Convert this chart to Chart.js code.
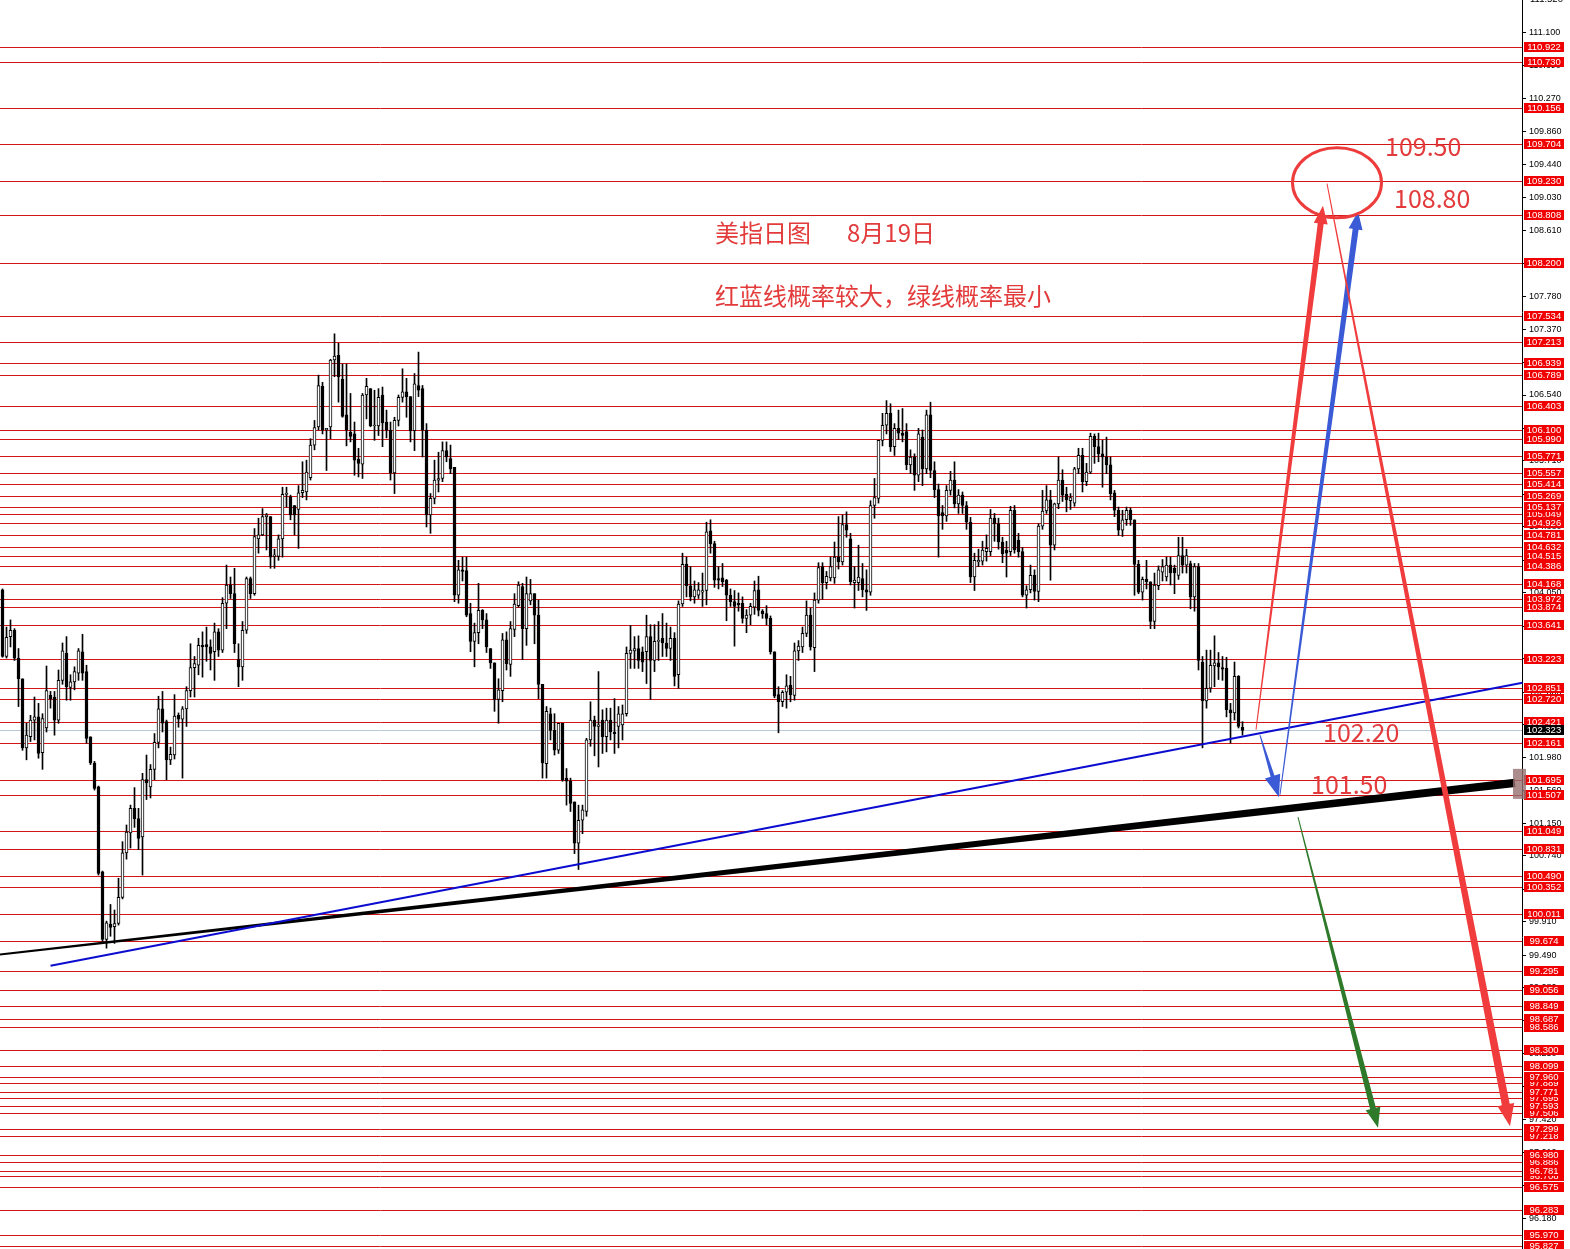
<!DOCTYPE html>
<html><head><meta charset="utf-8">
<script src="https://cdn.jsdelivr.net/npm/chart.js@4.4.1/dist/chart.umd.min.js"></script>
<style>html,body{margin:0;padding:0;background:#fff;overflow:hidden}canvas{display:block}</style>
</head><body>
<canvas id="c" width="1570" height="1249"></canvas>
<script>
// ---- Daily candles (USDX), oldest first ----
const opens = [
104.09,103.25,103.50,103.58,103.23,102.97,102.10,102.24,102.45,102.49,
102.04,102.35,102.76,102.74,102.45,102.95,103.29,102.86,102.93,103.04,
103.31,103.06,102.24,101.91,101.61,100.54,99.69,99.88,99.85,99.89,
100.22,100.78,101.03,101.34,101.21,100.98,101.70,101.61,101.83,102.17,
102.59,102.43,101.95,102.01,102.51,102.46,102.59,102.82,103.11,103.14,
103.39,103.40,103.37,103.31,103.56,103.33,103.92,104.15,104.04,103.21,
103.12,103.58,104.23,104.04,104.73,104.78,105.01,105.01,104.51,104.51,
104.73,105.29,105.26,105.15,105.10,105.31,105.32,105.50,105.91,106.14,
106.65,106.10,106.14,106.98,107.04,106.74,106.29,106.07,106.05,105.73,
105.67,106.54,106.62,106.15,106.15,106.54,106.20,106.10,105.56,106.22,
106.51,106.58,106.52,106.09,106.66,106.62,106.10,105.03,105.24,105.47,
105.49,105.84,105.74,105.63,104.02,104.34,104.33,103.79,103.44,103.55,
103.83,103.71,103.35,103.17,102.71,102.82,103.46,103.15,103.59,103.89,
104.13,103.60,103.95,104.04,103.77,102.90,101.90,102.53,102.32,102.07,
102.41,101.72,101.68,101.42,100.90,101.19,101.30,102.20,102.45,102.37,
102.45,102.24,102.45,102.30,102.37,102.39,102.53,103.29,103.32,103.35,
103.31,103.31,103.50,103.20,103.44,103.48,103.42,103.35,103.48,103.02,
103.91,104.41,104.14,104.00,104.02,104.06,104.08,104.83,104.67,104.23,
104.24,104.21,104.02,103.94,103.92,103.92,103.73,103.77,103.87,104.09,
103.82,103.79,103.73,103.31,102.77,102.68,102.80,102.89,102.76,103.32,
103.37,103.54,103.77,103.36,103.96,104.38,104.18,104.24,104.24,104.50,
104.44,104.91,104.73,104.18,104.18,104.23,104.09,104.06,105.15,105.24,
105.97,106.16,106.31,105.89,106.12,106.06,106.08,105.66,105.76,105.53,
106.01,105.61,106.29,105.59,105.35,105.06,105.02,105.34,105.47,105.17,
105.28,105.15,104.94,104.25,104.44,104.45,104.57,104.57,104.99,104.92,
104.69,104.59,104.57,105.09,104.71,104.57,104.02,104.09,104.27,104.07,
104.89,105.08,105.22,104.65,105.17,105.47,105.29,105.21,105.18,105.61,
105.78,105.45,105.57,106.02,105.89,105.80,105.76,105.66,105.31,105.09,
104.84,104.97,105.09,104.97,104.41,104.06,104.22,104.19,103.69,104.14,
104.31,104.25,104.40,104.36,104.27,104.52,104.40,104.42,104.00,104.38,
103.18,102.69,102.85,103.13,103.17,103.11,103.10,102.58,102.54,103.00,102.36
];
const highs = [
104.10,103.62,103.71,103.60,103.35,102.97,102.41,102.51,102.74,102.66,
102.53,103.13,102.81,102.81,103.08,103.42,103.50,103.02,103.12,103.35,
103.53,103.14,102.24,101.93,101.62,100.55,99.92,100.13,100.06,100.46,
100.92,101.13,101.38,101.60,101.34,101.78,102.01,101.89,102.28,102.75,
102.81,102.45,102.11,102.77,102.54,102.62,102.87,103.41,103.25,103.48,
103.56,103.62,103.46,103.67,103.60,103.99,104.40,104.25,104.36,103.41,
103.69,104.25,104.25,104.86,104.99,105.11,105.05,105.01,104.60,104.78,
105.38,105.38,105.28,105.15,105.40,105.70,105.72,105.99,106.22,106.79,
106.70,106.12,106.99,107.31,107.19,106.93,106.93,106.56,106.20,105.87,
106.56,106.75,106.62,106.60,106.62,106.64,106.35,106.20,106.26,106.54,
106.87,106.75,106.52,106.81,107.08,106.66,106.18,105.30,105.72,105.82,
105.95,105.95,105.91,105.63,104.46,104.50,104.50,103.92,103.67,104.17,
103.84,103.79,103.35,103.17,102.97,103.54,103.56,103.69,104.04,104.19,
104.17,104.25,104.22,104.04,103.96,102.90,102.62,102.60,102.53,102.41,
102.41,101.84,101.72,101.42,101.38,101.38,102.22,102.68,102.50,103.06,
102.58,102.60,102.60,102.72,102.62,102.64,103.37,103.64,103.50,103.51,
103.37,103.77,103.65,103.65,103.69,103.79,103.67,103.62,103.55,103.95,
104.55,104.50,104.38,104.20,104.18,104.30,104.94,104.97,104.70,104.38,
104.42,104.22,104.10,104.08,104.05,104.00,103.84,103.92,104.20,104.26,
103.84,103.89,103.76,103.31,102.87,102.82,103.02,103.00,103.42,103.45,
103.62,103.95,103.86,104.05,104.43,104.43,104.32,104.50,104.69,105.01,
105.03,105.07,104.80,104.38,104.65,104.42,104.34,105.21,105.49,105.97,
106.31,106.47,106.43,106.18,106.35,106.37,106.18,105.85,105.80,106.12,
106.10,106.35,106.45,105.70,105.42,105.15,105.40,105.58,105.70,105.35,
105.32,105.20,105.00,104.55,104.60,104.70,104.78,105.10,105.05,104.99,
104.75,104.70,105.14,105.15,104.80,104.62,104.14,104.40,104.34,104.92,
105.34,105.40,105.34,105.18,105.76,105.60,105.38,105.30,105.63,105.87,
105.87,105.68,106.06,106.05,106.06,105.97,106.01,105.76,105.34,105.13,
105.09,105.13,105.12,104.97,104.46,104.25,104.46,104.19,104.30,104.39,
104.47,104.50,104.50,104.40,104.75,104.75,104.60,104.45,104.42,104.42,
103.25,103.33,103.33,103.51,103.30,103.25,103.24,102.66,103.18,103.01,102.43
];
const lows = [
103.24,103.23,103.37,103.20,102.62,102.07,101.95,102.18,102.20,101.97,
101.83,102.30,102.60,102.26,102.41,102.90,102.70,102.70,102.83,102.95,
102.95,102.16,101.89,101.57,100.50,99.64,99.58,99.73,99.64,99.87,
100.20,100.70,100.84,101.10,100.82,100.50,101.45,101.47,101.70,102.10,
102.30,101.70,101.89,101.96,102.36,101.72,102.37,102.74,102.74,103.02,
102.99,103.19,103.08,102.95,103.25,103.30,103.60,103.98,103.30,102.87,
102.95,103.54,103.98,104.02,104.55,104.77,104.59,104.36,104.36,104.46,
104.50,105.13,104.97,104.78,104.61,105.25,105.22,105.47,105.85,106.10,
106.05,105.59,105.99,106.77,106.45,106.26,105.90,105.95,105.53,105.51,
105.49,106.24,106.14,105.97,106.03,105.89,106.00,105.47,105.30,106.15,
106.45,106.26,105.95,105.84,106.52,105.76,104.88,104.80,105.17,105.32,
105.45,105.70,105.55,103.94,103.92,104.20,103.75,103.31,103.12,103.41,
103.60,103.30,103.10,102.56,102.41,102.68,103.08,103.00,103.50,103.87,
103.21,103.39,103.90,103.41,102.72,101.72,101.72,102.20,102.01,102.03,
101.68,101.38,101.30,100.77,100.57,101.02,101.24,102.12,102.00,101.86,
102.03,102.05,102.20,102.03,102.10,102.20,102.50,103.10,103.10,103.10,
103.06,102.91,102.71,103.06,103.20,103.25,103.25,103.20,102.88,102.85,
103.88,104.00,103.95,103.92,103.98,103.88,103.90,104.55,104.12,104.10,
104.13,103.70,103.88,103.38,103.82,103.67,103.55,103.65,103.78,103.76,
103.73,103.65,103.28,102.73,102.29,102.62,102.60,102.68,102.70,103.20,
103.30,103.50,103.33,103.06,103.92,103.97,104.10,104.20,104.17,104.35,
104.40,104.75,104.15,103.86,104.08,104.00,103.83,104.02,104.99,105.18,
105.90,106.05,105.83,105.78,105.98,105.95,105.60,105.55,105.34,105.45,
105.40,105.55,105.50,105.25,104.50,104.85,104.95,105.28,105.12,105.05,
105.05,104.85,104.18,104.08,104.38,104.40,104.45,104.52,104.70,104.60,
104.43,104.25,104.52,104.55,104.50,104.00,103.86,104.05,103.96,103.94,
104.85,105.05,104.21,104.59,105.11,105.20,105.07,105.10,105.14,105.55,
105.32,105.40,105.55,105.68,105.70,105.38,105.55,105.22,105.01,104.77,
104.76,104.90,104.90,104.02,104.04,103.96,104.10,103.60,103.60,104.09,
104.20,104.20,104.15,104.04,104.22,104.30,104.30,103.85,103.82,103.08,
102.10,102.60,102.80,102.87,102.96,102.95,102.49,102.16,102.45,102.35,102.26
];
const closes = [
103.25,103.49,103.58,103.23,102.97,102.10,102.26,102.45,102.49,102.03,
102.47,102.82,102.72,102.45,102.95,103.32,102.87,102.93,103.06,103.32,
103.04,102.22,101.91,101.59,100.52,99.69,99.90,99.84,99.89,100.22,
100.78,101.04,101.34,101.21,100.96,101.70,101.66,101.83,102.17,102.59,
102.41,101.95,102.02,102.50,102.46,102.59,102.82,103.11,103.16,103.39,
103.37,103.37,103.29,103.56,103.33,103.92,104.15,104.04,103.41,103.12,
103.58,104.23,104.04,104.76,104.78,105.01,105.03,104.50,104.53,104.73,
105.29,105.30,105.03,105.03,105.31,105.34,105.57,105.91,106.13,106.66,
106.10,106.12,106.98,107.03,106.77,106.27,106.10,106.02,105.72,105.68,
106.54,106.65,106.15,106.16,106.51,106.19,106.10,105.56,106.22,106.51,
106.58,106.52,106.09,106.68,106.60,106.10,105.03,105.24,105.47,105.49,
105.84,105.76,105.61,104.02,104.34,104.32,103.77,103.44,103.55,103.83,
103.71,103.37,103.17,102.71,102.83,103.46,103.16,103.60,103.91,104.15,
103.60,104.04,104.04,103.77,102.90,101.91,102.56,102.32,102.07,102.41,
101.70,101.68,101.40,100.90,101.19,101.32,102.20,102.45,102.37,102.39,
102.24,102.45,102.30,102.28,102.53,102.53,103.29,103.33,103.35,103.20,
103.18,103.50,103.20,103.44,103.45,103.42,103.35,103.48,103.00,103.91,
104.41,104.14,104.00,104.09,104.09,104.08,104.82,104.67,104.21,104.21,
104.19,104.02,103.94,103.88,103.90,103.73,103.77,103.88,104.08,103.83,
103.79,103.73,103.31,102.75,102.68,102.80,102.88,102.77,103.32,103.38,
103.54,103.77,103.37,103.96,104.37,104.18,104.26,104.38,104.50,104.44,
104.91,104.84,104.19,104.21,104.25,104.09,104.06,105.15,105.25,105.97,
106.16,106.31,105.89,106.12,106.06,106.03,105.66,105.76,105.53,106.05,
105.61,106.29,105.59,105.35,105.02,105.02,105.34,105.47,105.17,105.28,
105.15,104.94,104.25,104.46,104.46,104.59,104.61,104.99,104.92,104.69,
104.54,104.55,105.09,104.59,104.57,104.02,104.09,104.27,104.07,104.89,
105.08,105.22,104.65,105.17,105.47,105.28,105.22,105.25,105.61,105.78,
105.45,105.57,106.02,105.89,105.80,105.76,105.66,105.30,105.09,104.84,
104.97,105.09,104.97,104.41,104.06,104.22,104.19,103.69,104.15,104.34,
104.38,104.40,104.30,104.30,104.52,104.40,104.52,104.00,104.38,103.20,
102.69,102.85,103.14,103.17,103.12,103.09,102.58,102.54,103.00,102.37,102.32
];
const currentPrice = 102.323;

// ---- horizontal support / resistance levels (red lines with right labels) ----
const levelLines = [110.922,110.730,110.156,109.704,109.230,108.808,108.200,107.534,107.213,106.939,106.789,106.403,106.100,105.990,105.771,105.557,105.414,105.269,105.137,105.049,104.926,104.781,104.632,104.515,104.386,104.168,103.972,103.874,103.641,103.223,102.851,102.720,102.421,102.161,101.695,101.507,101.049,100.831,100.490,100.352,100.011,99.674,99.295,99.056,98.849,98.687,98.586,98.300,98.099,97.960,97.889,97.771,97.695,97.593,97.506,97.299,97.218,96.980,96.886,96.781,96.708,96.575,96.283,95.970,95.827];

// ---- price axis tick labels ----
const axisTicks = [111.100,110.690,110.270,109.860,109.440,109.030,108.610,108.200,107.780,107.370,106.950,106.540,106.120,105.710,105.290,104.880,104.460,104.050,103.630,103.220,102.800,102.390,101.980,101.560,101.150,100.740,100.320,99.910,99.490,99.080,98.670,98.250,97.840,97.420,97.010,96.590,96.180];

// ---- drawn objects (bar index, price) ----
const blueTrend = [[12, 99.36], [380, 102.92]];
const blackTrend = [[-0.625, 99.50], [378.125, 101.66]];
const arrowShapes = [
  {from:[313.375,102.33], to:[330.125,108.92], w0:1, w1:6, head:18, headW:14, color:'#f03c3c'},
  {from:[314.375,102.26], to:[319.125,101.48], w0:1, w1:4, head:22, headW:16, color:'#3b5bd6'},
  {from:[319.375,101.51], to:[338.875,108.85], w0:1, w1:6, head:18, headW:14, color:'#3b5bd6'},
  {from:[331.125,109.20], to:[376.875,97.34], w0:1, w1:8, head:22, headW:17, color:'#f03c3c'},
  {from:[323.875,101.23], to:[343.875,97.32], w0:1, w1:6, head:20, headW:15, color:'#2f7a2a'}
];
const ring = {x:333.625, y:109.21, rx:44.5, ry:35};
const notes = [
  {text:'美指日图', x:178.125, y:108.58, size:24},
  {text:'8月19日', x:211.125, y:108.58, size:24},
  {text:'红蓝线概率较大，绿线概率最小', x:178.125, y:107.79, size:24},
  {text:'109.50', x:345.625, y:109.665, size:25},
  {text:'108.80', x:347.875, y:109.012, size:25},
  {text:'102.20', x:330.125, y:102.288, size:25},
  {text:'101.50', x:327.125, y:101.635, size:25}
];

const idx = opens.map((_, i) => i);
const wickData = idx.map(i => ({x: i, y: [Math.min(lows[i], opens[i], closes[i]), Math.max(highs[i], opens[i], closes[i])]}));
const bodyData = idx.map(i => ({x: i, y: [opens[i], closes[i]]}));
const bodyFill = idx.map(i => closes[i] >= opens[i] ? '#ffffff' : '#000000');

function taperArrow(ctx, x0, y0, x1, y1, w0, w1, headLen, headW, color) {
  const dx = x1 - x0, dy = y1 - y0, len = Math.hypot(dx, dy);
  const ux = dx / len, uy = dy / len, nx = -uy, ny = ux;
  const bx = x1 - ux * headLen, by = y1 - uy * headLen;
  ctx.fillStyle = color;
  ctx.beginPath();
  ctx.moveTo(x0 + nx * w0 / 2, y0 + ny * w0 / 2);
  ctx.lineTo(bx + nx * w1 / 2, by + ny * w1 / 2);
  ctx.lineTo(bx + nx * headW / 2, by + ny * headW / 2);
  ctx.lineTo(x1, y1);
  ctx.lineTo(bx - nx * headW / 2, by - ny * headW / 2);
  ctx.lineTo(bx - nx * w1 / 2, by - ny * w1 / 2);
  ctx.lineTo(x0 - nx * w0 / 2, y0 - ny * w0 / 2);
  ctx.closePath();
  ctx.fill();
}

const overlay = {
  id: 'overlay',
  beforeDatasetsDraw(chart) {
    const {ctx, chartArea: a, scales: {y}} = chart;
    ctx.save();
    ctx.lineWidth = 1;
    ctx.strokeStyle = '#b9c8d6';
    let py = Math.round(y.getPixelForValue(currentPrice)) + 0.5;
    ctx.beginPath(); ctx.moveTo(a.left, py); ctx.lineTo(a.right, py); ctx.stroke();
    ctx.strokeStyle = '#d21616';
    for (const v of levelLines) {
      py = Math.round(y.getPixelForValue(v)) + 0.5;
      ctx.beginPath(); ctx.moveTo(a.left, py); ctx.lineTo(a.right, py); ctx.stroke();
    }
    ctx.restore();
  },
  afterDatasetsDraw(chart) {
    const {ctx, scales: {x, y}} = chart;
    const P = p => [x.getPixelForValue(p[0]), y.getPixelForValue(p[1])];
    ctx.save();
    // black tapered trend line
    const [bx0, by0] = P(blackTrend[0]), [bx1, by1] = P(blackTrend[1]);
    {
      const dx = bx1 - bx0, dy = by1 - by0, len = Math.hypot(dx, dy);
      const nx = -dy / len, ny = dx / len, w0 = 2, w1 = 8.5;
      ctx.fillStyle = '#000';
      ctx.beginPath();
      ctx.moveTo(bx0 + nx * w0 / 2, by0 + ny * w0 / 2);
      ctx.lineTo(bx1 + nx * w1 / 2, by1 + ny * w1 / 2);
      ctx.lineTo(bx1 - nx * w1 / 2, by1 - ny * w1 / 2);
      ctx.lineTo(bx0 - nx * w0 / 2, by0 - ny * w0 / 2);
      ctx.closePath(); ctx.fill();
    }
    // blue trend line
    const [ux0, uy0] = P(blueTrend[0]), [ux1, uy1] = P(blueTrend[1]);
    ctx.strokeStyle = '#0c0cd0'; ctx.lineWidth = 2;
    ctx.beginPath(); ctx.moveTo(ux0, uy0); ctx.lineTo(ux1, uy1); ctx.stroke();
    // arrows
    for (const ar of arrowShapes) {
      const [ax0, ay0] = P(ar.from), [ax1, ay1] = P(ar.to);
      taperArrow(ctx, ax0, ay0, ax1, ay1, ar.w0, ar.w1, ar.head, ar.headW, ar.color);
    }
    // ellipse
    const [ex, ey] = P([ring.x, ring.y]);
    ctx.strokeStyle = '#ee3b3b'; ctx.lineWidth = 3;
    ctx.beginPath(); ctx.ellipse(ex, ey, ring.rx, ring.ry, 0, 0, Math.PI * 2); ctx.stroke();
    // notes
    ctx.fillStyle = '#e33b3b'; ctx.textBaseline = 'middle'; ctx.textAlign = 'left';
    for (const n of notes) {
      ctx.font = n.size + 'px "Noto Sans CJK SC", "Noto Sans", sans-serif';
      const [tx, ty] = P([n.x, n.y]);
      ctx.fillText(n.text, tx, ty);
    }
    ctx.restore();
  },
  afterDraw(chart) {
    const {ctx, chartArea: a, scales: {x, y}} = chart;
    ctx.save();
    ctx.font = '9.5px "Liberation Sans", Arial, sans-serif';
    ctx.textBaseline = 'middle';
    // partially visible top tick
    ctx.fillStyle = '#000'; ctx.textAlign = 'left';
    ctx.fillText('111.520', a.right + 8, y.getPixelForValue(111.52));
    ctx.textAlign = 'center';
    const bx = a.right + 2, bw = 40, bh = 10;
    const sorted = levelLines.slice().sort((p, q) => p - q);
    for (const v of sorted) {
      const py = Math.round(y.getPixelForValue(v));
      ctx.fillStyle = '#f00000';
      ctx.fillRect(bx, py - 5, bw, bh);
      ctx.fillStyle = '#fff';
      ctx.fillText(v.toFixed(3), bx + bw / 2, py + 0.5);
    }
    const cp = Math.round(y.getPixelForValue(currentPrice));
    ctx.fillStyle = '#000'; ctx.fillRect(bx, cp - 5, bw, bh);
    ctx.fillStyle = '#fff'; ctx.fillText(currentPrice.toFixed(3), bx + bw / 2, cp + 0.5);
    // small marker at the end of the black line
    const mx = x.getPixelForValue(blackTrend[1][0]);
    const my = y.getPixelForValue(blackTrend[1][1]);
    ctx.fillStyle = 'rgba(150,112,112,0.8)';
    ctx.fillRect(mx - 2, my - 14, 13, 30);
    ctx.restore();
  }
};

new Chart(document.getElementById('c'), {
  type: 'bar',
  data: {
    datasets: [
      {data: wickData, backgroundColor: '#000', borderWidth: 0, barThickness: 1, grouped: false, order: 2},
      {data: bodyData, backgroundColor: bodyFill, borderColor: '#000', borderWidth: 1, borderSkipped: false,
       barThickness: 3, minBarLength: 1, grouped: false, order: 1}
    ]
  },
  options: {
    responsive: false, animation: false, devicePixelRatio: 1,
    layout: {padding: 0},
    plugins: {legend: {display: false}, tooltip: {enabled: false}},
    scales: {
      x: {type: 'linear', display: false, min: -0.625, max: 379.875, offset: false},
      y: {
        position: 'right', min: 95.795, max: 111.51,
        afterFit(s) { s.width = 48; s.paddingTop = 0; s.paddingBottom = 0; },
        afterBuildTicks(s) { s.ticks = axisTicks.map(v => ({value: v})); },
        border: {display: true, color: '#000', width: 1},
        grid: {display: true, drawOnChartArea: false, drawTicks: true, tickLength: 4, color: '#000'},
        ticks: {autoSkip: false, padding: 3, color: '#000', font: {family: 'Liberation Sans', size: 9},
                callback: v => Number(v).toFixed(3)}
      }
    }
  },
  plugins: [overlay]
});
</script>
</body></html>
